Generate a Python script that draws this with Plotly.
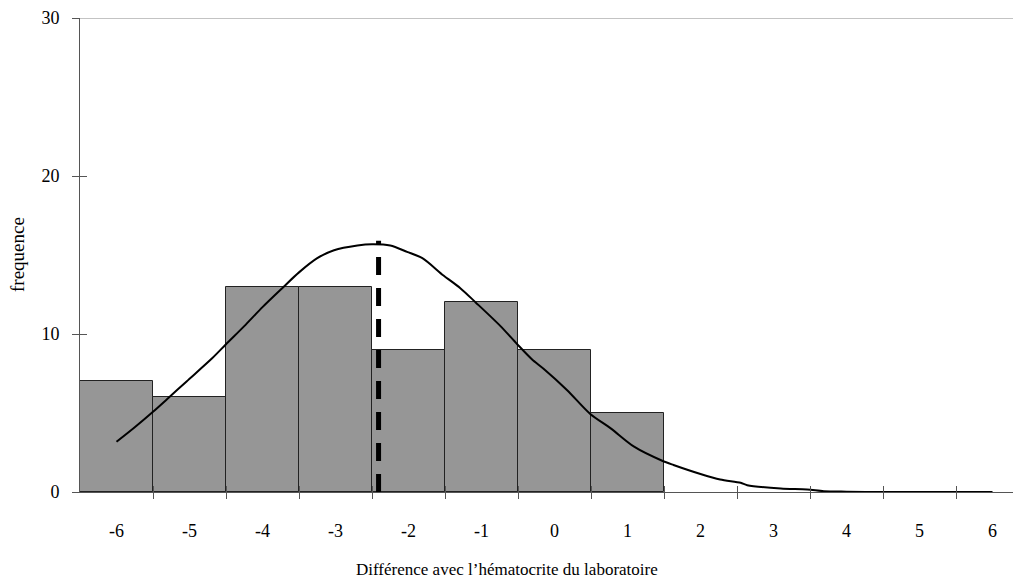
import plotly.graph_objects as go

# ---- data ----
categories = [-6, -5, -4, -3, -2, -1, 0, 1]
frequencies = [7, 6, 13, 13, 9, 12, 9, 5]

curve_x = [-6.0, -5.75, -5.5, -5.29, -5.04, -4.69, -4.5, -4.25, -4.0, -3.73, -3.5,
           -3.25, -3.02, -2.7, -2.5, -2.25, -2.02, -1.81, -1.52, -1.29, -1.08,
           -0.74, -0.51, -0.31, -0.15, 0.17, 0.49, 0.77, 1.09, 1.475, 1.63, 2.0, 2.27,
           2.55, 2.64, 3.1, 3.46, 3.69, 4.0, 4.5, 5.0, 5.5, 6.0]
curve_y = [3.18, 4.1, 5.08, 5.95, 7.0, 8.46, 9.35, 10.5, 11.7, 12.9, 13.9,
           14.8, 15.3, 15.6, 15.68, 15.6, 15.2, 14.8, 13.7, 12.9, 12.0,
           10.5, 9.35, 8.4, 7.8, 6.46, 4.94, 4.03, 2.87, 1.98, 1.71, 1.14, 0.79,
           0.58, 0.43, 0.22, 0.16, 0.05, 0.02, 0.0, 0.0, 0.0, 0.0]

mean_x = -2.41
mean_top = 15.9

x_tick_labels = [-6, -5, -4, -3, -2, -1, 0, 1, 2, 3, 4, 5, 6]
x_boundaries = [-5.5, -4.5, -3.5, -2.5, -1.5, -0.5, 0.5, 1.5, 2.5, 3.5, 4.5, 5.5]
y_ticks = [0, 10, 20, 30]

FONT = "Liberation Serif"
AX = "#555555"

fig = go.Figure()
fig.add_trace(go.Bar(x=categories, y=frequencies, width=1,
                     marker=dict(color="#969696", line=dict(color="#222222", width=1)),
                     showlegend=False))
fig.add_trace(go.Scatter(x=curve_x, y=curve_y, mode="lines",
                         line=dict(color="black", width=2, shape="spline", smoothing=0.8),
                         showlegend=False))
fig.add_trace(go.Scatter(x=[mean_x, mean_x], y=[0, mean_top], mode="lines",
                         line=dict(color="black", width=5, dash="18px,13px"),
                         showlegend=False))

x_range = [-6.5, -6.5 + 941 / 73]

fig.update_layout(
    width=1013, height=579,
    margin=dict(l=72, r=0, t=10, b=95),
    plot_bgcolor="white", paper_bgcolor="white",
    font=dict(family=FONT, size=18, color="black"),
    bargap=0,
    xaxis=dict(range=x_range, tickvals=x_tick_labels, ticktext=[str(v) for v in x_tick_labels],
               ticks="outside", ticklen=22, tickcolor="rgba(0,0,0,0)",
               tickfont=dict(family=FONT, size=18),
               showline=True, linecolor=AX, linewidth=1, showgrid=False, zeroline=False),
    xaxis2=dict(range=x_range, overlaying="x", tickvals=x_boundaries, showticklabels=False,
                ticks="outside", ticklen=6, tickcolor=AX, showgrid=False, zeroline=False,
                showline=False, anchor="y"),
    xaxis3=dict(range=x_range, overlaying="x", tickvals=x_boundaries, showticklabels=False,
                ticks="inside", ticklen=6, tickcolor=AX, showgrid=False, zeroline=False,
                showline=False, anchor="y"),
    yaxis=dict(range=[0, 30], tickvals=y_ticks, ticks="outside", ticklen=7, tickcolor=AX,
               tickfont=dict(family=FONT, size=18),
               showline=True, linecolor=AX, linewidth=1, showgrid=False, zeroline=False,
               ticklabelstandoff=9),
    yaxis2=dict(range=[0, 30], overlaying="y", tickvals=y_ticks, showticklabels=False,
                ticks="inside", ticklen=7, tickcolor=AX, showgrid=False, zeroline=False,
                showline=False, side="left", anchor="x"),
)
# dummy traces to activate overlay axes
fig.add_trace(go.Scatter(x=[None], y=[None], xaxis="x2", yaxis="y", showlegend=False))
fig.add_trace(go.Scatter(x=[None], y=[None], xaxis="x3", yaxis="y", showlegend=False))
fig.add_trace(go.Scatter(x=[None], y=[None], xaxis="x", yaxis="y2", showlegend=False))

# top border line at y=30
fig.add_shape(type="line", xref="paper", yref="y", x0=0, x1=1, y0=30, y1=30,
              line=dict(color="#888888", width=1))

fig.add_annotation(text="Différence avec l’hématocrite du laboratoire",
                   xref="paper", yref="paper", x=(507 - 80) / 941, y=(492 - 569) / 474,
                   showarrow=False, font=dict(family=FONT, size=17), yanchor="middle")
fig.add_annotation(text="frequence", xref="paper", yref="paper",
                   x=(17 - 80) / 941, y=0.5, textangle=-90, showarrow=False,
                   font=dict(family=FONT, size=19), xanchor="center", yanchor="middle")

fig.write_html("out.html")
